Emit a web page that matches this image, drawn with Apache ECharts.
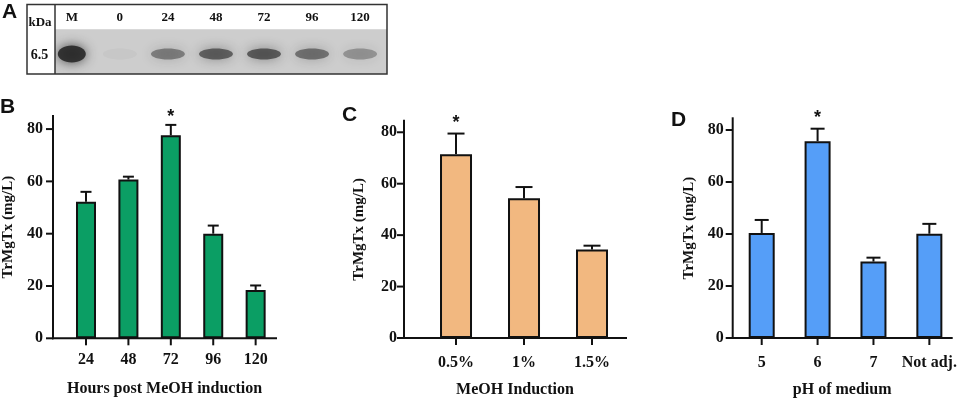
<!DOCTYPE html>
<html><head><meta charset="utf-8">
<script src="https://cdn.jsdelivr.net/npm/echarts@6/dist/echarts.min.js"></script>
<style>html,body{margin:0;padding:0;background:#fff}#c{width:962px;height:403px}</style>
</head><body><div id="c"></div>
<script>
// ---- Data ----
const blotLanes = ['M', '0', '24', '48', '72', '96', '120'];
const blotIntensity = [0.9, 0.03, 0.45, 0.62, 0.65, 0.52, 0.33];

const hoursCats = ['24', '48', '72', '96', '120'];
const hoursMean = [52.2, 60.7, 77.6, 40.0, 18.5];
const hoursErr = [3.8, 1.1, 4.0, 3.1, 1.7];
const hoursSig = ['', '', '*', '', ''];

const meohCats = ['0.5%', '1%', '1.5%'];
const meohMean = [71.5, 54.3, 34.4];
const meohErr = [8.0, 4.4, 1.5];
const meohSig = ['*', '', ''];

const phCats = ['5', '6', '7', 'Not adj.'];
const phMean = [40.4, 75.7, 29.4, 40.1];
const phErr = [5.0, 4.8, 1.5, 3.8];
const phSig = ['', '*', '', ''];

const yTicks = [0, 20, 40, 60, 80];

// ---- Helpers ----
const SERIF = '"Liberation Serif","Times New Roman",serif';
const SANS = '"Liberation Sans",Arial,sans-serif';
const INK = '#111';

function xAxisFor(gridIndex, cats, min, max, name, margin, nameGap) {
  const idx = cats.map((_, i) => i);
  return {
    type: 'value', gridIndex, min, max, name, nameLocation: 'middle', nameGap,
    nameTextStyle: { fontFamily: SERIF, fontWeight: 'bold', fontSize: 16, color: INK },
    axisLine: { show: false, onZero: false },
    axisTick: { show: false },
    axisLabel: { customValues: idx, margin, fontFamily: SERIF, fontWeight: 'bold', fontSize: 16, color: INK,
      formatter: v => cats[Math.round(v)] },
    splitLine: { show: false }
  };
}
function yAxisFor(gridIndex, max, margin, nameGap) {
  return {
    type: 'value', gridIndex, min: 0, max, name: 'TrMgTx (mg/L)', nameLocation: 'middle', nameGap,
    nameTextStyle: { fontFamily: SERIF, fontWeight: 'bold', fontSize: 15, color: INK },
    axisLine: { show: false, onZero: false },
    axisTick: { show: false },
    axisLabel: { customValues: yTicks, margin, fontFamily: SERIF, fontWeight: 'bold', fontSize: 16, color: INK },
    splitLine: { show: false }
  };
}
function barSeries(axisIdx, means, color, width) {
  return {
    type: 'bar', xAxisIndex: axisIdx, yAxisIndex: axisIdx, barWidth: width, z: 2,
    data: means.map((m, i) => [i, m]),
    itemStyle: { color, borderColor: INK, borderWidth: 2 }
  };
}
function errSeries(axisIdx, means, errs, sig, capW, starGap) {
  return {
    type: 'custom', xAxisIndex: axisIdx, yAxisIndex: axisIdx, z: 3, clip: false,
    data: means.map((m, i) => [i, m, errs[i]]),
    renderItem: function (params, api) {
      const x = api.value(0), m = api.value(1), e = api.value(2);
      const b = api.coord([x, m]), t = api.coord([x, m + e]);
      const children = [
        { type: 'line', shape: { x1: b[0], y1: b[1], x2: t[0], y2: t[1] }, style: { stroke: INK, lineWidth: 2 } },
        { type: 'line', shape: { x1: t[0] - capW / 2, y1: t[1], x2: t[0] + capW / 2, y2: t[1] }, style: { stroke: INK, lineWidth: 2 } }
      ];
      const s = sig[params.dataIndex];
      if (s) {
        children.push({ type: 'text', x: t[0], y: t[1] - starGap,
          style: { text: s, fill: INK, font: 'bold 18px ' + SANS, align: 'center', verticalAlign: 'middle' } });
      }
      return { type: 'group', children };
    }
  };
}

const panels = [
  { grid: 1, cats: hoursCats, xmin: -0.778, xmax: 4.48, ymax: 85 },
  { grid: 2, cats: meohCats, xmin: -0.765, xmax: 2.5, ymax: 84.5 },
  { grid: 3, cats: phCats, xmin: -0.519, xmax: 3.4, ymax: 84.5 }
];
const [PB, PC, PD] = panels;

const baseGraphic = [
  { type: 'rect', shape: { x: 55, y: 29.3, width: 332, height: 44.7 }, style: { fill: '#cdcdcd' }, z: 0 },
  { type: 'rect', shape: { x: 27, y: 4.5, width: 360, height: 69.5 }, style: { fill: 'none', stroke: '#333', lineWidth: 1.5 }, z: 10 },
  { type: 'line', shape: { x1: 55, y1: 4.5, x2: 55, y2: 74 }, style: { stroke: '#333', lineWidth: 1.5 }, z: 10 },
  { type: 'text', x: 40, y: 23, style: { text: 'kDa', font: 'bold 13px ' + SERIF, fill: INK, align: 'center', verticalAlign: 'middle' }, z: 10 },
  { type: 'text', x: 39.5, y: 55, style: { text: '6.5', font: 'bold 14px ' + SERIF, fill: INK, align: 'center', verticalAlign: 'middle' }, z: 10 },
  { type: 'text', x: 2, y: 2, style: { text: 'A', font: 'bold 21px ' + SANS, fill: INK }, z: 10 },
  { type: 'text', x: 0, y: 97, style: { text: 'B', font: 'bold 21px ' + SANS, fill: INK }, z: 10 },
  { type: 'text', x: 342, y: 105, style: { text: 'C', font: 'bold 21px ' + SANS, fill: INK }, z: 10 },
  { type: 'text', x: 671, y: 110, style: { text: 'D', font: 'bold 21px ' + SANS, fill: INK }, z: 10 }
];

const chart = echarts.init(document.getElementById('c'), null, { renderer: 'canvas' });
const option = {
  animation: false,
  backgroundColor: '#fff',
  grid: [
    { left: 55, top: 29.3, width: 332, height: 44.7 },
    { left: 53, top: 116, width: 223, height: 222.3 },
    { left: 404, top: 120.7, width: 222, height: 219.3 },
    { left: 732.7, top: 118.3, width: 219, height: 223.4 }
  ],
  xAxis: [
    {
      type: 'value', gridIndex: 0, min: -0.35, max: 6.56, position: 'top',
      axisLine: { show: false }, axisTick: { show: false }, splitLine: { show: false },
      axisLabel: { customValues: blotLanes.map((_, i) => i), margin: 5, fontFamily: SERIF, fontWeight: 'bold',
        fontSize: 13, color: INK, formatter: v => blotLanes[Math.round(v)] }
    },
    xAxisFor(1, hoursCats, PB.xmin, PB.xmax, 'Hours post MeOH induction', 14, 43),
    xAxisFor(2, meohCats, PC.xmin, PC.xmax, 'MeOH Induction', 17, 44),
    xAxisFor(3, phCats, PD.xmin, PD.xmax, 'pH of medium', 17, 44)
  ],
  yAxis: [
    { type: 'value', gridIndex: 0, min: 0, max: 1, show: false },
    yAxisFor(1, PB.ymax, 10, 37),
    yAxisFor(2, PC.ymax, 7, 37),
    yAxisFor(3, PD.ymax, 9, 36)
  ],
  series: [
    {
      type: 'custom', xAxisIndex: 0, yAxisIndex: 0, z: 2, clip: true,
      data: blotIntensity.map((a, i) => [i, a]),
      renderItem: function (params, api) {
        const i = api.value(0), a = api.value(1);
        const p = api.coord([i, 0.45]);
        const big = blotLanes[params.dataIndex] === 'M';
        const col = 'rgba(40,40,40,' + a + ')';
        return {
          type: 'ellipse',
          shape: { cx: p[0], cy: p[1], rx: big ? 14 : 17, ry: big ? 8.5 : 5.5 },
          style: { fill: col, shadowBlur: 12, shadowColor: col }
        };
      }
    },
    barSeries(1, hoursMean, '#0b9e64', 20),
    errSeries(1, hoursMean, hoursErr, hoursSig, 11, 8),
    barSeries(2, meohMean, '#f2b880', 32),
    errSeries(2, meohMean, meohErr, meohSig, 17, 11),
    barSeries(3, phMean, '#559ef8', 26),
    errSeries(3, phMean, phErr, phSig, 14, 11)
  ],
  graphic: baseGraphic
};
chart.setOption(option);

// Axis lines and ticks, positioned through each grid's own scales
const frame = [];
panels.forEach(P => {
  const f = { gridIndex: P.grid };
  const o = chart.convertToPixel(f, [P.xmin, 0]);
  const r = chart.convertToPixel(f, [P.xmax, 0]);
  const t = chart.convertToPixel(f, [P.xmin, P.ymax]);
  const st = { stroke: INK, lineWidth: 2, lineCap: 'square' };
  frame.push({ type: 'line', z: 20, shape: { x1: o[0], y1: o[1], x2: r[0], y2: r[1] }, style: st });
  frame.push({ type: 'line', z: 20, shape: { x1: o[0], y1: t[1], x2: o[0], y2: o[1] }, style: st });
  P.cats.forEach((c, i) => {
    const p = chart.convertToPixel(f, [i, 0]);
    frame.push({ type: 'line', z: 20, shape: { x1: p[0], y1: p[1], x2: p[0], y2: p[1] + 7 }, style: { stroke: INK, lineWidth: 2 } });
  });
  yTicks.forEach(v => {
    const p = chart.convertToPixel(f, [P.xmin, v]);
    frame.push({ type: 'line', z: 20, shape: { x1: p[0] - 7, y1: p[1], x2: p[0], y2: p[1] }, style: { stroke: INK, lineWidth: 2 } });
  });
});
chart.setOption({ graphic: baseGraphic.concat(frame) });
</script>
</body></html>
